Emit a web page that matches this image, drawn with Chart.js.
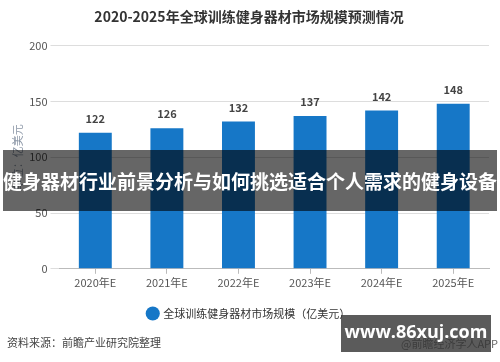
<!DOCTYPE html>
<html>
<head>
<meta charset="utf-8">
<script src="https://cdn.jsdelivr.net/npm/chart.js@4"></script>
<style>
html,body{margin:0;padding:0;background:#fff;}
#wrap{width:500px;height:362px;position:relative;}
</style>
</head>
<body>
<div id="wrap"><canvas id="c" width="500" height="362"></canvas></div>
<script>
const categories = ["2020年E","2021年E","2022年E","2023年E","2024年E","2025年E"];
const marketSize = [122,126,132,137,142,148];
const yTicks = [0,50,100,150,200];
const seriesName = "全球训练健身器材市场规模（亿美元）";
const chartTitle = "2020-2025年全球训练健身器材市场规模预测情况";
const yTitle = "单位：亿美元";
const sourceText = "资料来源：前瞻产业研究院整理";
const creditText = "@前瞻经济学人APP";
const bannerText = "健身器材行业前景分析与如何挑选适合个人需求的健身设备";
const watermarkText = "www.86xuj.com";

const FONT = "'Noto Sans CJK SC','Noto Sans',sans-serif";
const BLUE = "#1677c7";

const valueLabels = {
  id: 'valueLabels',
  afterDatasetsDraw(chart){
    const ctx = chart.ctx;
    const meta = chart.getDatasetMeta(0);
    ctx.save();
    ctx.font = "bold 11px " + FONT;
    ctx.fillStyle = "#444";
    ctx.textAlign = "center";
    ctx.textBaseline = "middle";
    meta.data.forEach((bar,i)=>{
      ctx.fillText(String(marketSize[i]), bar.x, bar.y - 14);
    });
    ctx.restore();
  }
};

const overlays = {
  id: 'overlays',
  afterDraw(chart){
    const ctx = chart.ctx;
    ctx.save();
    ctx.font = "11px " + FONT;
    ctx.fillStyle = "#444";
    ctx.textBaseline = "middle";
    ctx.textAlign = "left";
    ctx.fillText(sourceText, 7, 343);
    ctx.fillStyle = "#666";
    ctx.textAlign = "right";
    ctx.fillText(creditText, 498, 344);
    ctx.fillStyle = "rgba(50,50,50,0.8)";
    ctx.fillRect(341, 315, 150, 37);
    ctx.fillStyle = "#fff";
    ctx.font = "bold 18px 'Open Sans','DejaVu Sans',sans-serif";
    ctx.textAlign = "center";
    ctx.fillText(watermarkText, 416, 333);
    ctx.fillStyle = "rgba(0,0,0,0.6)";
    ctx.fillRect(3, 150, 494, 61);
    ctx.fillStyle = "#fff";
    ctx.font = "bold 19px " + FONT;
    ctx.textAlign = "center";
    ctx.fillText(bannerText, 250, 182);
    ctx.restore();
  }
};

new Chart(document.getElementById('c'), {
  type: 'bar',
  data: {
    labels: categories,
    datasets: [{
      label: seriesName,
      data: marketSize,
      backgroundColor: BLUE,
      borderWidth: 0,
      barPercentage: 0.46,
      categoryPercentage: 1.0
    }]
  },
  options: {
    responsive: false,
    animation: false,
    devicePixelRatio: 1,
    layout: { padding: { left: 9, right: 11, top: 0, bottom: 33 } },
    plugins: {
      title: {
        display: true,
        text: chartTitle,
        color: "#333",
        font: { family: FONT, size: 14, weight: 'bold' },
        padding: { top: 8, bottom: 21 }
      },
      legend: {
        position: 'bottom',
        labels: {
          usePointStyle: true,
          pointStyle: 'circle',
          boxWidth: 10,
          boxHeight: 10,
          color: "#333",
          font: { family: FONT, size: 11 },
          padding: 17
        }
      },
      tooltip: { enabled: false }
    },
    scales: {
      x: {
        grid: { display: true, drawOnChartArea: false, offset: false, tickLength: 5, color: "#bbb" },
        border: { display: true, color: "#bbb" },
        ticks: { color: "#555", font: { family: FONT, size: 11 }, padding: 2 }
      },
      y: {
        min: 0, max: 200,
        afterBuildTicks(axis){ axis.ticks = yTicks.map(v=>({value:v})); },
        grid: { color: "#ddd", tickLength: 9 },
        border: { display: false },
        ticks: { color: "#555", font: { family: FONT, size: 11 }, padding: 3 },
        title: {
          display: true,
          text: yTitle,
          color: "#8d98a8",
          font: { family: FONT, size: 11 },
          padding: { top: 2, bottom: 2 }
        }
      }
    }
  },
  plugins: [valueLabels, overlays]
});
</script>
</body>
</html>
